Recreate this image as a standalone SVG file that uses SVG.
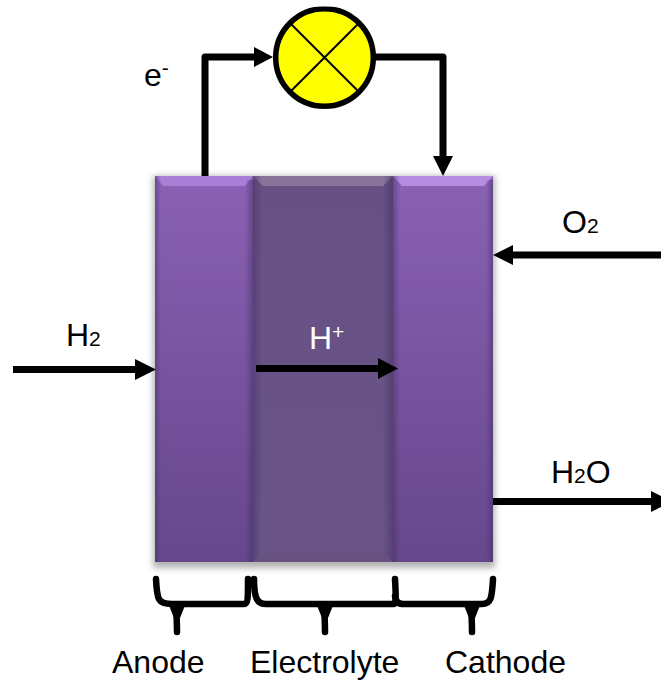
<svg xmlns="http://www.w3.org/2000/svg" width="661" height="680" viewBox="0 0 661 680">
<style>
text{font-family:"Liberation Sans",Arial,sans-serif;font-size:32px;fill:#000}
.w{fill:none;stroke:#000;stroke-width:7;stroke-linejoin:round}
.b{fill:none;stroke:#000;stroke-width:6.500;stroke-linecap:round;stroke-linejoin:round}
.h{fill:#000}
.s{font-size:21px}
</style>
<defs>
<linearGradient id="g1" x1="0" y1="0" x2="0" y2="1"><stop offset="0" stop-color="#8a61b4"/><stop offset="1" stop-color="#66478c"/></linearGradient>
<linearGradient id="g2" x1="0" y1="0" x2="0" y2="1"><stop offset="0" stop-color="#685083"/><stop offset="1" stop-color="#6a5488"/></linearGradient>
<linearGradient id="sideL" x1="0" y1="0" x2="1" y2="0"><stop offset="0" stop-color="#3f2c5e" stop-opacity=".45"/><stop offset="1" stop-color="#3f2c5e" stop-opacity="0"/></linearGradient>
<linearGradient id="sideR" x1="0" y1="0" x2="1" y2="0"><stop offset="0" stop-color="#3f2c5e" stop-opacity="0"/><stop offset="1" stop-color="#3f2c5e" stop-opacity=".5"/></linearGradient>
<filter id="sh" x="-10%" y="-5%" width="120%" height="110%"><feGaussianBlur stdDeviation="3"/></filter>
</defs>
<rect x="153" y="176" width="342" height="392" fill="#000" opacity=".3" filter="url(#sh)"/>
<g id="anode">
<rect x="155" y="176" width="98" height="386" fill="url(#g1)"/>
<polygon points="155,176 253,176 245,186 163,186" fill="#a77fd6"/>
<rect x="155" y="176" width="6" height="386" fill="url(#sideL)"/>
<rect x="245" y="180" width="8" height="382" fill="url(#sideR)"/>
</g>
<g id="electrolyte">
<rect x="253" y="176" width="140" height="386" fill="url(#g2)"/>
<polygon points="253,176 393,176 383,186 263,186" fill="#8a7399"/>
<rect x="253" y="176" width="9" height="386" fill="url(#sideL)"/>
<rect x="383" y="176" width="10" height="386" fill="url(#sideR)"/>
<polygon points="262,553 384,553 393,562 253,562" fill="#66517f"/>
</g>
<g id="cathode">
<rect x="393" y="176" width="100" height="386" fill="url(#g1)"/>
<polygon points="393,176 493,176 484,186 402,186" fill="#b48ce2"/>
<rect x="393" y="176" width="7" height="386" fill="url(#sideL)"/>
<rect x="486" y="180" width="7" height="382" fill="url(#sideR)"/>
</g>
<g id="lamp">
<circle cx="324.500" cy="57.500" r="48.800" fill="#ff0" stroke="#000" stroke-width="5.500"/>
<path d="M290 23L359 92M359 23L290 92" stroke="#000" stroke-width="2" fill="none"/>
<rect x="260" y="0" width="130" height="6.500" fill="#fff"/>
</g>
<g id="connectors">
<path class="w" d="M205 176V57H256"/>
<polygon class="h" points="254,47 273,57 254,67"/>
<path class="w" d="M375 57H443V158"/>
<polygon class="h" points="433,156 453,156 443,176"/>
<path class="w" d="M661 255H510"/>
<polygon class="h" points="513,245 513,265 493,255"/>
<path class="w" d="M493 501.500H652"/>
<polygon class="h" points="651,491 661,496 661,507 651,512"/>
<path class="w" d="M13 369.500H138"/>
<polygon class="h" points="135,359 156,369.500 135,380"/>
<path class="w" d="M256 368.500H380"/>
<polygon class="h" points="378,358 398,368.500 378,379"/>
</g>
<g id="braces">
<path class="b" d="M156 579C157 600 158 604 172 604H244C248 604 248 598 248 579M177 604C176 610 177 622 177 632"/>
<polygon class="h" points="168,603 186,603 180,618 174,618"/>
<path class="b" d="M254 579C254 600 258 604 266 604H394C396 604 396 596 395 579M325 604C324 610 325 622 325 632"/>
<polygon class="h" points="316,603 334,603 328,618 322,618"/>
<path class="b" d="M395 596C396 602 398 604 404 604H482C491 604 492 598 493 579M472 604C471 610 472 622 472 632"/>
<polygon class="h" points="463,603 481,603 475,618 469,618"/>
</g>
<g id="labels">
<text x="144" y="86">e<tspan class="s" dy="-11">-</tspan></text>
<text x="66" y="346">H<tspan class="s" dy="0">2</tspan></text>
<text x="309" y="349" style="fill:#fff">H<tspan class="s" dy="-10" style="fill:#fff">+</tspan></text>
<text x="562" y="233">O<tspan class="s">2</tspan></text>
<text x="551" y="483">H<tspan class="s">2</tspan>O</text>
<text x="112" y="673">Anode</text>
<text x="250" y="673">Electrolyte</text>
<text x="445" y="673">Cathode</text>
</g>
</svg>
